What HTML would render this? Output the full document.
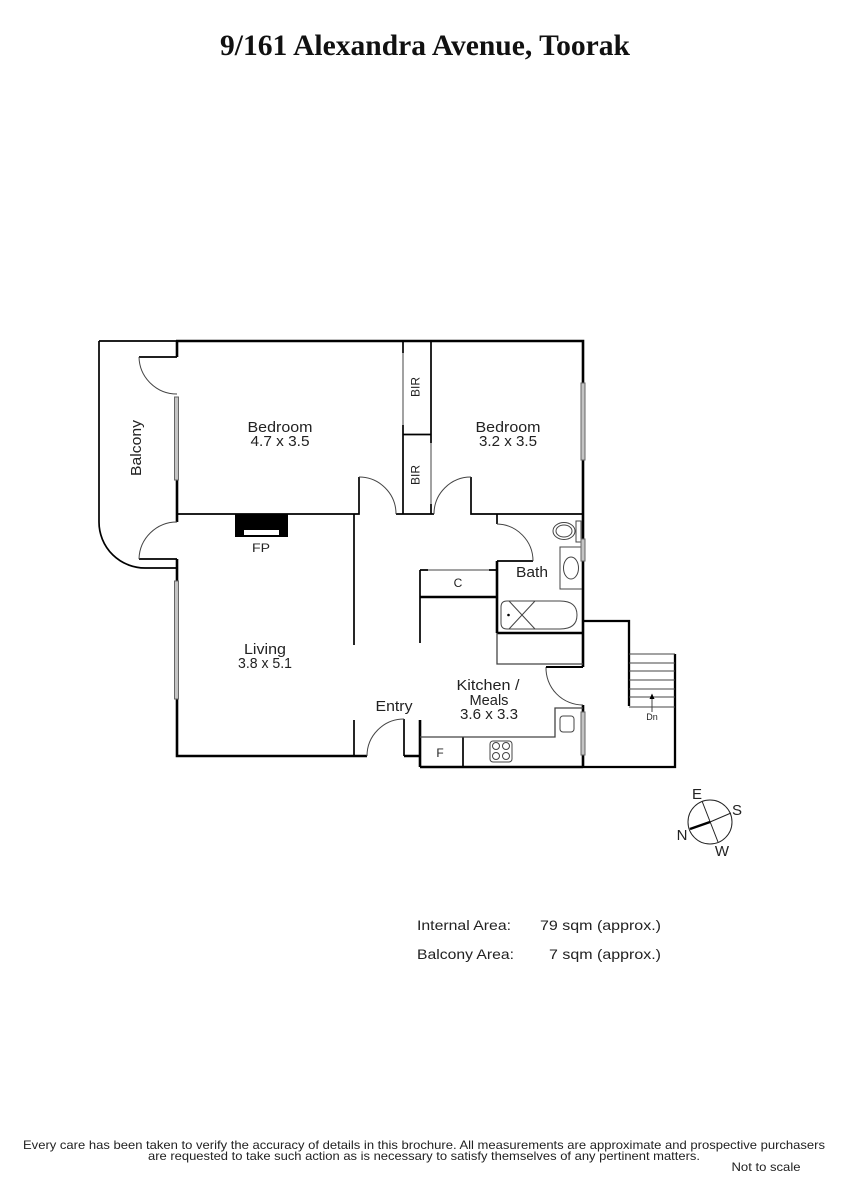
<!DOCTYPE html>
<html><head><meta charset="utf-8"><style>
html,body{margin:0;padding:0;background:#fff}
svg{display:block}
text{font-family:"Liberation Sans",sans-serif;fill:#222;text-anchor:middle}
.r{font-size:15px}
.s{font-size:14px;text-anchor:start}
.f{font-size:12px}
</style></head><body>
<svg width="848" height="1200" viewBox="0 0 848 1200" xmlns="http://www.w3.org/2000/svg">
<rect width="848" height="1200" fill="#fff"/>
<text x="425" y="55" textLength="410" lengthAdjust="spacingAndGlyphs" style="font-family:'Liberation Serif',serif;font-weight:bold;font-size:30px;fill:#111">9/161 Alexandra Avenue, Toorak</text>

<!-- thick walls -->
<g fill="none" stroke="#000" stroke-width="2.600">
<path d="M176 341H583V621"/>
<path d="M177 341V357M177 480V522M177 559V581M177 699V756H367"/>
<path d="M583 621V667M583 705V712M583 755V767M420 767H583"/>
<path d="M420 720V767M404 756H420"/>
<path d="M497 633H583"/>
<path d="M497 561V633"/>
<path d="M420 597H497"/>
</g>
<g fill="none" stroke="#000" stroke-width="2.300">
<path d="M583 621H629V706M583 767H675V654"/>
</g>
<g fill="none" stroke="#000" stroke-width="1.700">
<path d="M99 341H177M99 341V522A46 46 0 0 0 146 568H177"/>
<path d="M139 357H177M139 559H177"/>
<path d="M177 514H359V477M354 514V645M354 720V756"/>
<path d="M396 514H434M471 477V514H583"/>
<path d="M403 425V514M403 341V353M403 434.500H431M431 341V443M431 504V514"/>
<path d="M497 514V524M497 561H533"/>
<path d="M420 570V643M420 570H428M489 570H497"/>
<path d="M404 719V756"/>
<path d="M463 737V767"/>
</g>
<!-- thin lines -->
<g fill="none" stroke="#444" stroke-width="1">
<path d="M139 357A38 38 0 0 0 177 394"/>
<path d="M139 559A38 38 0 0 1 177 522"/>
<path d="M359 477A37 37 0 0 1 396 514"/>
<path d="M434 514A37 37 0 0 1 471 477"/>
<path d="M497 524A37 37 0 0 1 533 561"/>
<path d="M546 667A37 37 0 0 0 583 705"/>
<path d="M367 756A37 37 0 0 1 404 719"/>
<path d="M403 353V425M431 443V504M428 570H489"/>
<path d="M497 633V664H583" stroke-width="1.300"/>
<path d="M546 667H583" stroke="#000" stroke-width="2"/>
<path d="M420 737H555V708H583" stroke-width="1.300"/>
<rect x="576" y="521" width="5" height="21"/>
<ellipse cx="564" cy="531" rx="11" ry="8.500"/>
<ellipse cx="564" cy="531" rx="8" ry="6"/>
<path d="M582 547H560V589H582"/>
<ellipse cx="571" cy="568" rx="7.500" ry="11"/>
<path d="M507 601H560Q577 601 577 615Q577 629 560 629H507Q501 629 501 623V607Q501 601 507 601Z"/>
<path d="M509 601L535 629M535 601L509 629"/>
<rect x="560" y="716" width="14" height="16" rx="3"/>
<rect x="490" y="741" width="22" height="21" rx="3"/>
<circle cx="496" cy="746" r="3.500"/><circle cx="506" cy="746" r="3.500"/>
<circle cx="496" cy="756" r="3.500"/><circle cx="506" cy="756" r="3.500"/>
<path d="M629 654H675M629 663H675M629 671H675M629 680H675M629 689H675M629 697H675M629 707H675"/>
<path d="M652 697V712"/>
</g>
<circle cx="508.500" cy="615" r="1.300" fill="#000"/>
<path d="M649.500 699L652 693.500L654.500 699Z" fill="#000"/>
<!-- windows -->
<g fill="#c4c4c4" stroke="#666" stroke-width="1">
<rect x="174.500" y="397" width="4" height="83"/>
<rect x="174.500" y="581" width="4" height="118"/>
<rect x="581" y="383" width="4" height="77"/>
<rect x="581" y="539" width="4" height="22"/>
<rect x="581" y="712" width="4" height="43"/>
</g>
<!-- fireplace -->
<rect x="235" y="514" width="53" height="23" fill="#000"/>
<rect x="244" y="530" width="35" height="5" fill="#fff"/>

<!-- room labels -->
<text class="r" x="280" y="432" textLength="65" lengthAdjust="spacingAndGlyphs">Bedroom</text>
<text class="r" x="280" y="446" textLength="59" lengthAdjust="spacingAndGlyphs">4.7 x 3.5</text>
<text class="r" x="508" y="432" textLength="65" lengthAdjust="spacingAndGlyphs">Bedroom</text>
<text class="r" x="508" y="446" textLength="58" lengthAdjust="spacingAndGlyphs">3.2 x 3.5</text>
<text class="r" transform="translate(141,448) rotate(-90)" textLength="56" lengthAdjust="spacingAndGlyphs">Balcony</text>
<text class="f" transform="translate(419.500,387) rotate(-90)" textLength="20" lengthAdjust="spacingAndGlyphs">BIR</text>
<text class="f" transform="translate(419.500,475) rotate(-90)" textLength="20" lengthAdjust="spacingAndGlyphs">BIR</text>
<text class="f" x="261" y="552" textLength="18" lengthAdjust="spacingAndGlyphs">FP</text>
<text class="r" x="532" y="577" textLength="32" lengthAdjust="spacingAndGlyphs">Bath</text>
<text class="f" x="458" y="587">C</text>
<text class="r" x="265" y="654" textLength="42" lengthAdjust="spacingAndGlyphs">Living</text>
<text class="r" x="265" y="668" textLength="54" lengthAdjust="spacingAndGlyphs">3.8 x 5.1</text>
<text class="r" x="394" y="711" textLength="37" lengthAdjust="spacingAndGlyphs">Entry</text>
<text class="r" x="488" y="690" textLength="63" lengthAdjust="spacingAndGlyphs">Kitchen /</text>
<text class="r" x="489" y="705" textLength="39" lengthAdjust="spacingAndGlyphs">Meals</text>
<text class="r" x="489" y="719" textLength="58" lengthAdjust="spacingAndGlyphs">3.6 x 3.3</text>
<text class="f" x="440" y="757">F</text>
<text x="652" y="720" style="font-size:9px">Dn</text>

<!-- compass -->
<g fill="none" stroke="#222" stroke-width="1">
<circle cx="710" cy="822" r="22"/>
<path d="M702 801L718 842M710 822L731 813"/>
</g>
<path d="M690 829L710 822" stroke="#000" stroke-width="2.500"/>
<text x="697" y="799" style="font-size:15px">E</text>
<text x="737" y="815" style="font-size:15px">S</text>
<text x="682" y="840" style="font-size:15px">N</text>
<text x="722" y="856" style="font-size:15px">W</text>

<!-- area -->
<text class="s" x="417" y="930" textLength="94" lengthAdjust="spacingAndGlyphs">Internal Area:</text>
<text class="s" x="540" y="930" textLength="121" lengthAdjust="spacingAndGlyphs">79 sqm (approx.)</text>
<text class="s" x="417" y="959" textLength="97" lengthAdjust="spacingAndGlyphs">Balcony Area:</text>
<text class="s" x="549" y="959" textLength="112" lengthAdjust="spacingAndGlyphs">7 sqm (approx.)</text>

<!-- footer -->
<text x="424" y="1149" style="font-size:12px" textLength="802" lengthAdjust="spacingAndGlyphs">Every care has been taken to verify the accuracy of details in this brochure.  All measurements are approximate and prospective purchasers</text>
<text x="424" y="1160" style="font-size:12px" textLength="552" lengthAdjust="spacingAndGlyphs">are requested to take such action as is necessary to satisfy themselves of any pertinent matters.</text>
<text x="766" y="1171" style="font-size:12px" textLength="69" lengthAdjust="spacingAndGlyphs">Not to scale</text>
</svg>
</body></html>
